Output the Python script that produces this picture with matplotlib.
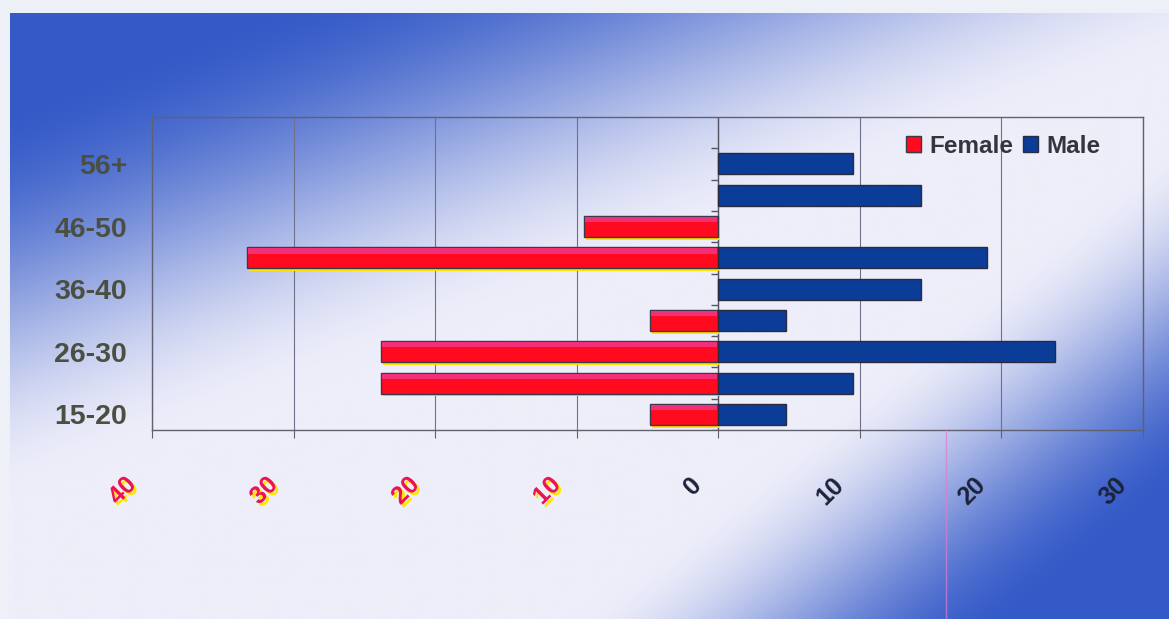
import numpy as np
import matplotlib
matplotlib.use('Agg')
import matplotlib.pyplot as plt
import matplotlib.patheffects as pe
from matplotlib.patches import Patch
from matplotlib.transforms import ScaledTranslation

# age groups from youngest (bottom) to oldest (top)
age_groups = ['15-20', '21-25', '26-30', '31-35', '36-40', '41-45', '46-50', '51-55', '56+']
female = [4.8, 23.8, 23.8, 4.8, 0, 33.3, 9.5, 0, 0]
male = [4.8, 9.5, 23.8, 4.8, 14.3, 19.0, 0, 14.3, 9.5]
x_ticks = [-40, -30, -20, -10, 0, 10, 20, 30]

plt.rcParams['font.family'] = ['Liberation Sans', 'DejaVu Sans']
plt.rcParams['font.weight'] = 'bold'

W, H = 1169, 619
fig = plt.figure(figsize=(W / 100, H / 100), dpi=100)
fig.patch.set_facecolor('#eef0f8')


def smooth(v):
    v = np.clip(v, 0, 1)
    return v * v * (3 - 2 * v)


# blue corners fading into a white diagonal band
bg = fig.add_axes([10 / W, 0, 1 - 10 / W, (H - 13) / H], zorder=-10)
gx, gy = np.meshgrid(np.linspace(10, W, 580), np.linspace(13, H, 300))
t = gx / 1100 + gy / 420
u = (W - gx) / 500 + (H - gy) / 400
b1 = smooth((1.2 - t) / 0.95)
b2 = smooth((1.2 - u) / 0.9)
b = np.maximum(b1, b2)
blue = np.array([52, 90, 200]) / 255
white = np.array([238, 238, 250]) / 255
img = white * (1 - b[..., None]) + blue * b[..., None]
bg.imshow(img, aspect='auto', interpolation='bilinear', extent=[0, 1, 0, 1])
bg.set_axis_off()

ax = fig.add_axes([152 / W, (H - 430) / H, (1143 - 152) / W, (430 - 117) / H])
ax.set_facecolor('none')

y = np.arange(len(age_groups))
fem = np.array(female)
mal = np.array(male)
bh = 0.67

fm = fem > 0
fbars = ax.barh(y[fm], -fem[fm], height=bh, color='#ff0a1e', edgecolor='#3a3a4a',
                linewidth=1, zorder=3)
for p in fbars:
    p.set_path_effects([pe.SimplePatchShadow(offset=(1.5, -2), shadow_rgbFace='#ffe400', alpha=1),
                        pe.Normal()])
# pink sheen along the top of the female bars
hs = bh * 0.25
ax.barh(y[fm] + bh / 2 - hs / 2 - 0.03, -fem[fm] + 0.12, left=-0.06, height=hs,
        color='#f2307a', linewidth=0, zorder=4)

mm = mal > 0
ax.barh(y[mm], mal[mm], height=bh, color='#0b3c98', edgecolor='#2a2a40',
        linewidth=1, zorder=3)

# zero axis with small ticks between categories
ax.axvline(0, color='#555566', lw=1, zorder=2)
ax.plot(np.zeros(len(y) + 1), np.arange(len(y) + 1) - 0.5, ls='none', marker=0,
        markersize=5, color='#555566', zorder=2)

ax.set_xlim(-40, 30)
ax.set_ylim(-0.5, 9.5)
ax.set_xticks(x_ticks)
ax.grid(axis='x', color='#70708a', lw=0.8)
ax.set_axisbelow(True)
for s in ax.spines.values():
    s.set_color('#606070')
    s.set_linewidth(1)
ax.tick_params(axis='x', length=6, color='#606070', labelbottom=False)
ax.set_yticks(y[::2], [age_groups[i] for i in y[::2]])
ax.tick_params(axis='y', length=0, pad=18, labelsize=20.5, labelcolor='#4b4f42')

# rotated x labels: negatives in red with yellow shadow
off = ScaledTranslation(-20 / 100, -51 / 100, fig.dpi_scale_trans)
for tk in x_ticks:
    if tk < 0:
        kw = dict(color='#ec1258',
                  path_effects=[pe.withSimplePatchShadow(offset=(2, -2),
                                                         shadow_rgbFace='#ffe800', alpha=1)])
    else:
        kw = dict(color='#1c2238')
    ax.text(tk, 0, str(abs(tk)), transform=ax.get_xaxis_transform() + off,
            rotation=45, rotation_mode='anchor', ha='right', va='center',
            fontsize=18, fontweight='bold', **kw)

handles = [
    Patch(facecolor='#ff0a1e', edgecolor='#3a3a4a',
          path_effects=[pe.SimplePatchShadow(offset=(1, -1.5), shadow_rgbFace='#ffe400', alpha=1),
                        pe.Normal()]),
    Patch(facecolor='#0b3c98', edgecolor='#2a2a40'),
]
ax.legend(handles, ['Female', 'Male'], loc='center right', bbox_to_anchor=(0.957, 0.907),
          ncol=2, frameon=False, fontsize=17.5, handlelength=0.6, handleheight=0.6,
          handletextpad=0.35, columnspacing=0.4, borderpad=0, borderaxespad=0,
          labelcolor='#33343c')

# faint pink streak down the lower right
fig.add_artist(plt.Line2D([946 / W, 946 / W], [0, (H - 430) / H], color='#e27ad0',
                          lw=1, alpha=0.7))

fig.savefig('out.png', dpi=100, facecolor=fig.get_facecolor())
